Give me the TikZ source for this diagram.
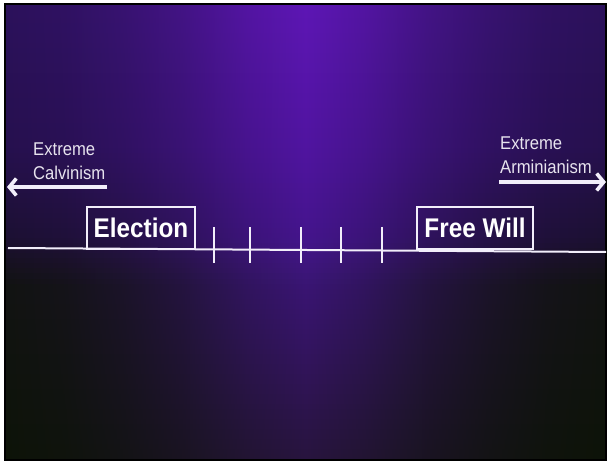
\documentclass[tikz,border=0pt]{standalone}
\usepackage{fontspec}
\setmainfont{Liberation Sans}
\newfontfamily\slidesf[FakeStretch=0.9]{Liberation Sans}
\usetikzlibrary{arrows.meta}

\definecolor{chalk}{RGB}{242,238,250}

\begin{document}
\begin{tikzpicture}[
    x=1pt, y=-1pt,
    declare function={
        pw(\yv,\pa,\pb,\pc,\pd,\pe) = (\yv<150)*(\pa+(\pb-\pa)*\yv/150)
            + (\yv>=150)*(\yv<240)*(\pb+(\pc-\pb)*(\yv-150)/90)
            + (\yv>=240)*(\yv<285)*(\pc+(\pd-\pc)*(\yv-240)/45)
            + (\yv>=285)*(\pd+(\pe-\pd)*(\yv-285)/175);
    },
    rule/.style={chalk, line width=2pt},
    tick/.style={chalk, line width=2.4pt},
    doctrine/.style={draw=chalk, line width=1.8pt, text=white, inner sep=0pt,
        font=\slidesf\bfseries\fontsize{27}{30}\selectfont},
    pole/.style={text=chalk!90!gray, inner sep=0pt, align=left, anchor=north west,
        font=\slidesf\fontsize{18.5}{23.5}\selectfont},
    drift/.style={chalk, line width=3.6pt, -{Straight Barb[length=7pt,width=17pt]}}
]

% ============================================================
% Slide background
% ============================================================
\useasboundingbox (0,0) rectangle (610,462);
\fill[white] (0,0) rectangle (610,462);

% Spotlight: strips, each shaded from the edge tone to the core tone
\begin{scope}
    \clip (5,4) rectangle (606,460);
    \foreach \i in {0,...,91} {
        \pgfmathsetmacro{\yy}{4+5*\i}
        \pgfmathsetmacro{\ym}{\yy+2.5}
        \pgfmathtruncatemacro{\er}{pw(\ym,44,38,28,18,13)}
        \pgfmathtruncatemacro{\eg}{pw(\ym,18,16,16,19,19)}
        \pgfmathtruncatemacro{\eb}{pw(\ym,92,78,50,18,8)}
        \pgfmathtruncatemacro{\cr}{pw(\ym,94,80,68,58,40)}
        \pgfmathtruncatemacro{\cg}{pw(\ym,22,20,21,21,20)}
        \pgfmathtruncatemacro{\cb}{pw(\ym,182,160,140,116,62)}
        \definecolor{edgeC}{RGB}{\er,\eg,\eb}
        \definecolor{coreC}{RGB}{\cr,\cg,\cb}
        \foreach \xa/\xb/\wa/\wb in {5/65.5/0/8, 65.5/125.5/8/25, 125.5/185.5/25/48,
                185.5/245.5/48/78, 245.5/305.5/78/100, 305.5/365.5/100/78,
                365.5/425.5/78/48, 425.5/485.5/48/25, 485.5/545.5/25/8, 545.5/606/8/0} {
            \shade[left color=coreC!\wa!edgeC, right color=coreC!\wb!edgeC]
                (\xa-0.4,\yy) rectangle (\xb+0.4,\yy+5.4);
        }
    }
\end{scope}
\draw[black, line width=1.2pt] (5,4) rectangle (606,460);

% ============================================================
% Scale line
% ============================================================
\coordinate (west) at (8,248);
\coordinate (east) at (606,252);
\draw[rule] (west) -- (east);

\foreach \tx in {214,250,301,341,382} {
    \draw[tick] (\tx,227) -- (\tx,263);
}

% Boxes sitting on the line
\node[doctrine, minimum width=108pt, minimum height=42pt] (election) at (141,228) {Election};
\node[doctrine, minimum width=116pt, minimum height=42pt] (freewill) at (475,228) {Free Will};

% ============================================================
% Extremes
% ============================================================
\coordinate (calvtail) at (107,187);
\coordinate (calvtip) at (7,187);
\draw[drift] (calvtail) -- (calvtip);
\node[pole] (calvinism) at (33,143) {Extreme\\Calvinism};

\coordinate (armtail) at (499,182);
\coordinate (armtip) at (606,182);
\draw[drift] (armtail) -- (armtip);
\node[pole] (arminianism) at (500,137) {Extreme\\Arminianism};
\end{tikzpicture}
\end{document}
